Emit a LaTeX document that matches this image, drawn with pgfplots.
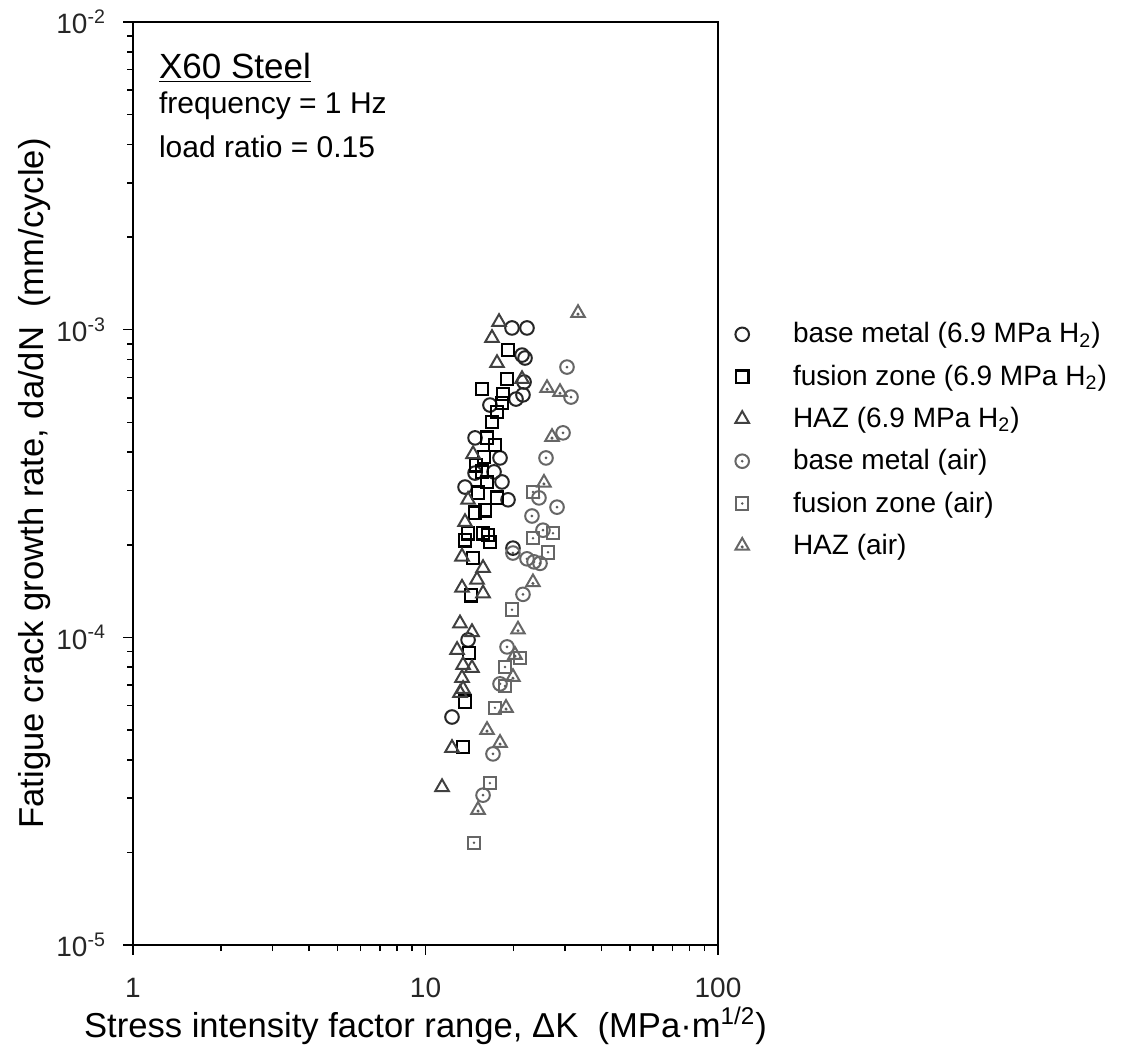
\documentclass[border=0pt]{standalone}
\usepackage{pgfplots}
\pgfplotsset{compat=1.18}
\usepackage{fontspec}
\setmainfont{Liberation Sans}

\pgfdeclareplotmark{odot}{%
 \pgfpathcircle{\pgfpointorigin}{\pgfplotmarksize}\pgfusepathqstroke
 \pgfpathcircle{\pgfpointorigin}{0.22\pgfplotmarksize}\pgfusepathqfill}
\pgfdeclareplotmark{sdot}{%
 \pgfpathrectangle{\pgfqpoint{-\pgfplotmarksize}{-\pgfplotmarksize}}{\pgfqpoint{2\pgfplotmarksize}{2\pgfplotmarksize}}\pgfusepathqstroke
 \pgfpathcircle{\pgfpointorigin}{0.22\pgfplotmarksize}\pgfusepathqfill}
\pgfdeclareplotmark{tdot}{%
 \pgfpathmoveto{\pgfqpointpolar{90}{\pgfplotmarksize}}%
 \pgfpathlineto{\pgfqpointpolar{210}{\pgfplotmarksize}}%
 \pgfpathlineto{\pgfqpointpolar{-30}{\pgfplotmarksize}}%
 \pgfpathclose\pgfusepathqstroke
 \pgfpathcircle{\pgfqpoint{0pt}{-0.15\pgfplotmarksize}}{0.22\pgfplotmarksize}\pgfusepathqfill}

\begin{document}
\begin{tikzpicture}
\path[use as bounding box] (-66.5pt,-52.5pt) rectangle (497pt,472.5pt);
\begin{axis}[
  at={(0pt,0pt)}, anchor=south west,
  scale only axis, width=292.5pt, height=461.5pt,
  xmode=log, ymode=log, xmin=1, xmax=100, ymin=1e-5, ymax=1e-2,
  axis line style={line width=1pt},
  tick style={black, line width=0.8pt},
  tick align=outside, xtick pos=left, ytick pos=left,
  major tick length=5pt, minor tick length=3pt,
  xtick={1,10,100}, xticklabels={1,10,100},
  ytick={1e-5,1e-4,1e-3,1e-2},
  yticklabels={10\textsuperscript{-5},10\textsuperscript{-4},10\textsuperscript{-3},10\textsuperscript{-2}},
  minor xtick={2,3,4,5,6,7,8,9,20,30,40,50,60,70,80,90},
  minor ytick={2e-5,3e-5,4e-5,5e-5,6e-5,7e-5,8e-5,9e-5,2e-4,3e-4,4e-4,5e-4,6e-4,7e-4,8e-4,9e-4,2e-3,3e-3,4e-3,5e-3,6e-3,7e-3,8e-3,9e-3},
  ticklabel style={font=\fontsize{14}{16}\selectfont, text=black!85},
  xticklabel style={yshift=-8pt},
  yticklabel style={xshift=-5pt},
  xlabel={Stress intensity factor range, ΔK\ \ (MPa·m\textsuperscript{1/2})},
  ylabel={Fatigue crack growth rate, da/dN\ \ (mm/cycle)},
  label style={font=\fontsize{17.3}{20}\selectfont},
  xlabel style={at={(axis description cs:0.5,-0.0997)}, anchor=base},
  ylabel style={at={(axis description cs:-0.1538,0.5)}, anchor=base},
  legend style={draw=none, fill=none, at={(axis description cs:1,0.679)}, anchor=north west, xshift=8.5pt,
    font=\fontsize{14}{16}\selectfont, cells={anchor=west}, row sep=5.5pt, inner sep=0pt,
    /tikz/every odd column/.append style={column sep=20pt}},
  legend image code/.code={\draw[#1] plot coordinates {(0pt,0pt)};},
]
% base metal H2
\addplot[only marks, mark=o, mark size=3.4pt, draw=black!85, line width=1pt] coordinates {
(19.76,1.013e-3) (22.23,1.013e-3) (21.38,8.27e-4) (21.89,8.09e-4) (21.72,6.76e-4)
(21.54,6.14e-4) (20.39,5.95e-4) (16.61,5.69e-4) (14.77,4.45e-4) (17.98,3.83e-4)
(14.77,3.42e-4) (17.15,3.45e-4) (18.26,3.20e-4) (13.65,3.08e-4) (19.15,2.80e-4)
(19.91,1.95e-4) (13.98,9.81e-5) (12.32,5.51e-5)
};
\addlegendentry{base metal (6.9 MPa H\textsubscript{2})}
% fusion zone H2
\addplot[only marks, mark=square, mark size=3.1pt, draw=black, line width=1.2pt] coordinates {
(19.15,8.59e-4) (19.00,6.91e-4) (15.61,6.42e-4) (18.41,6.18e-4) (18.26,5.78e-4)
(17.56,5.40e-4) (16.88,5.01e-4) (16.23,4.45e-4) (17.28,4.22e-4) (15.85,3.86e-4)
(14.88,3.63e-4) (15.61,3.45e-4) (16.23,3.20e-4) (15.12,2.95e-4) (17.56,2.84e-4)
(15.97,2.59e-4) (14.77,2.54e-4) (13.98,2.18e-4) (15.73,2.18e-4) (16.36,2.15e-4)
(13.65,2.07e-4) (16.61,2.04e-4) (14.54,1.81e-4) (14.31,1.37e-4) (14.09,8.90e-5)
(13.65,6.17e-5) (13.44,4.40e-5)
};
\addlegendentry{fusion zone (6.9 MPa H\textsubscript{2})}
% HAZ H2
\addplot[only marks, mark=triangle, mark size=3.9pt, draw=black!75, line width=1pt] coordinates {
(17.84,1.059e-3) (16.88,9.40e-4) (17.56,7.79e-4) (21.38,6.91e-4) (14.54,3.94e-4)
(13.98,2.80e-4) (13.65,2.37e-4) (13.33,1.83e-4) (15.73,1.68e-4) (15.00,1.54e-4)
(13.33,1.45e-4) (15.73,1.39e-4) (13.12,1.11e-4) (14.42,1.04e-4) (12.82,9.10e-5)
(13.44,8.13e-5) (14.42,7.95e-5) (13.33,7.38e-5) (13.44,6.80e-5) (13.12,6.60e-5)
(12.32,4.37e-5) (11.39,3.26e-5)
};
\addlegendentry{HAZ (6.9 MPa H\textsubscript{2})}
% base metal air
\addplot[only marks, mark=odot, mark size=3.4pt, draw=black!60, fill=black!65, line width=1pt] coordinates {
(30.46,7.56e-4) (31.44,6.04e-4) (29.52,4.62e-4) (25.82,3.83e-4) (24.43,2.84e-4)
(28.16,2.65e-4) (23.12,2.48e-4) (25.21,2.23e-4) (19.91,1.88e-4) (22.23,1.80e-4)
(23.49,1.76e-4) (24.63,1.74e-4) (21.54,1.38e-4) (19.00,9.31e-5) (17.98,7.06e-5)
(17.01,4.18e-5) (15.73,3.07e-5)
};
\addlegendentry{base metal (air)}
% fusion zone air
\addplot[only marks, mark=sdot, mark size=3.1pt, draw=black!60, fill=black!65, line width=1pt] coordinates {
(23.30,2.97e-4) (27.29,2.18e-4) (23.30,2.10e-4) (26.23,1.89e-4) (19.76,1.23e-4)
(21.04,8.57e-5) (18.70,8.01e-5) (18.70,6.95e-5) (17.28,5.90e-5) (16.61,3.36e-5)
(14.65,2.15e-5)
};
\addlegendentry{fusion zone (air)}
% HAZ air
\addplot[only marks, mark=tdot, mark size=3.9pt, draw=black!60, fill=black!65, line width=1pt] coordinates {
(33.22,1.133e-3) (26.03,6.46e-4) (28.83,6.27e-4) (27.07,4.48e-4) (25.41,3.18e-4)
(23.30,1.51e-4) (20.71,1.06e-4) (20.23,8.77e-5) (19.91,7.43e-5) (18.85,5.90e-5)
(16.23,5.00e-5) (17.98,4.54e-5) (15.12,2.75e-5)
};
\addlegendentry{HAZ (air)}
% annotations
\node[anchor=base west, font=\fontsize{17.5}{20}\selectfont] at (rel axis cs:0.0325,0.9393) {\underline{X60 Steel}};
\node[anchor=base west, font=\fontsize{15}{18}\selectfont] at (rel axis cs:0.0325,0.9005) {frequency = 1 Hz};
\node[anchor=base west, font=\fontsize{15}{18}\selectfont] at (rel axis cs:0.0325,0.8530) {load ratio = 0.15};
\end{axis}
\end{tikzpicture}
\end{document}
